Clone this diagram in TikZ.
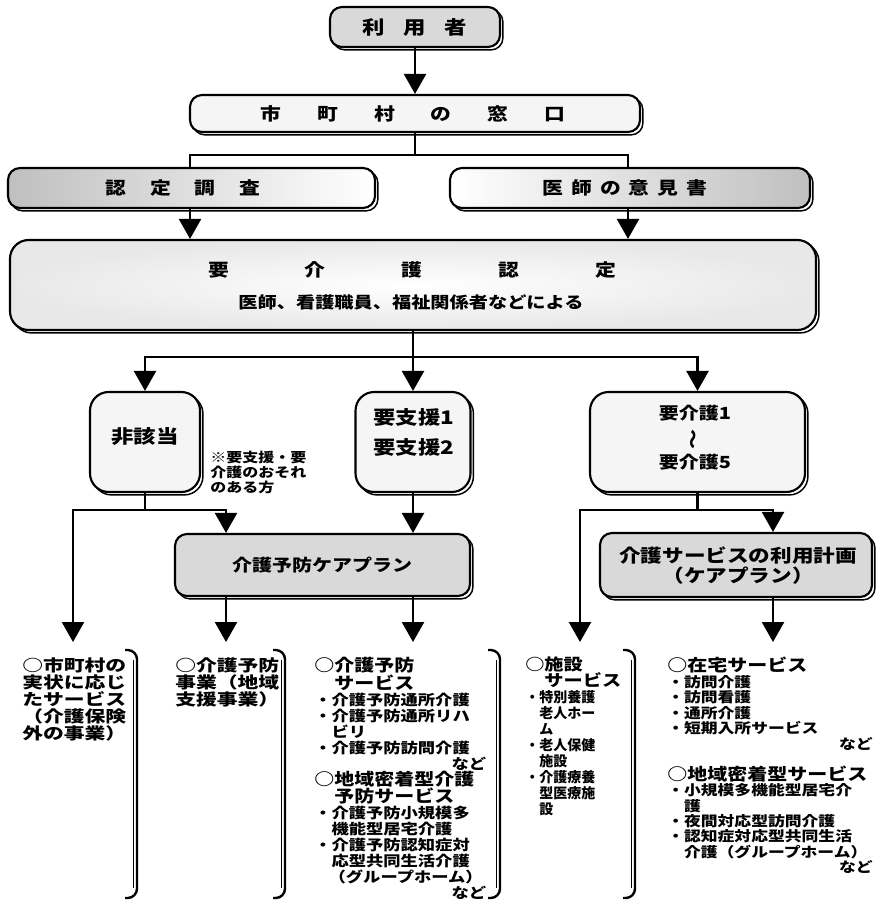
\documentclass[tikz,border=0pt]{standalone}
\usepackage{fontspec}
\usepackage{graphicx}
\usetikzlibrary{arrows.meta,shadows}
\newfontfamily\jp{Noto Sans CJK JP}[FakeStretch=1.2]
\newfontfamily\jpw{Noto Sans CJK JP}[FakeStretch=1.3]
\newfontfamily\jpn{Noto Sans CJK JP}
\newcommand\rnd{\hskip 0pt plus 1fill\relax}
\newcommand\fs[1]{\fontsize{#1}{#1}\selectfont}
\setlength\parindent{0pt}
\lineskiplimit=-50pt
\lineskip=0pt
\begin{document}
\begin{tikzpicture}[x=0.75pt,y=-0.75pt,
  sz/.style 2 args={minimum width=#1*0.75pt, minimum height=#2*0.75pt},
  box/.style={draw=black, line width=1.6pt, rounded corners=9pt, inner sep=0pt,
     copy shadow={shadow xshift=2.2pt, shadow yshift=-2.2pt, draw=black, line width=1.1pt, fill=white}},
  lbox/.style={box, fill=gray!8},
  dbox/.style={box, fill=gray!30},
  txt/.style={inner sep=0pt},
  arr/.style={line width=1.8pt, -{Triangle[width=16.5pt,length=15pt]}},
  ln/.style={line width=1.8pt},
  brk/.style={line width=1.8pt, rounded corners=7pt},
  brkin/.style={line width=0.7pt},
  col/.style={inner sep=0pt, anchor=north west, align=left}
]
\fill[white] (0,0) rectangle (875,902);
\path[use as bounding box] (0,0) rectangle (875,902);

% ---- boxes ----
\node[dbox, sz={170}{40}] (user) at (415,27) {};
\node[txt, font=\jp\bfseries\fs{14}] (userT) at (user) {利\hspace{14pt}用\hspace{14pt}者};

\node[lbox, sz={450}{37}] (mado) at (415,113.5) {};
\node[txt, font=\jp\bfseries\fs{13}] (madoT) at (413,113.5) {市\hspace{27pt}町\hspace{27pt}村\hspace{27pt}の\hspace{27pt}窓\hspace{27pt}口};

\node[box, sz={367}{40}, left color=gray!50, right color=white] (chosa) at (191.5,188) {};
\node[txt, font=\jp\bfseries\fs{13}] (chosaT) at (183,188) {認\hspace{18pt}定\hspace{18pt}調\hspace{18pt}査};

\node[box, sz={360}{40}, left color=white, right color=gray!50] (ishi) at (630,188) {};
\node[txt, font=\jp\bfseries\fs{13}] (ishiT) at (625,188) {医\hspace{6pt}師\hspace{6pt}の\hspace{6pt}意\hspace{6pt}見\hspace{6pt}書};

\node[box, sz={806}{90}, rounded corners=14pt, inner color=white, outer color=gray!18] (nintei) at (413,285) {};
\node[txt, font=\jp\bfseries\fs{13}] (ninteiT) at (412,270) {要\hspace{57pt}介\hspace{57pt}護\hspace{57pt}認\hspace{57pt}定};
\node[txt, font=\jp\bfseries\fs{12}] (ninteiS) at (411,302) {医師、看護職員、福祉関係者などによる};

\node[lbox, sz={110}{100}, rounded corners=14pt] (hi) at (145,442) {};
\node[txt, font=\jp\bfseries\fs{14}] (hiT) at (145,437) {非該当};

\node[lbox, sz={115}{100}, rounded corners=14pt] (shien) at (413,442) {};
\node[txt, align=center, font=\jp\bfseries\fontsize{14}{22}\selectfont] (shienT) at (414,432.5) {要支援1\\要支援2};

\node[lbox, sz={215}{100}, rounded corners=14pt] (kaigo) at (697.5,442) {};
\node[txt, align=center, font=\jp\bfseries\fontsize{12.5}{18.4}\selectfont] (kaigoT) at (695,437.5) {要介護1\\\rotatebox[origin=c]{90}{～}\\要介護5};

\node[txt, anchor=north west, align=left, font=\jp\bfseries\fontsize{10}{11}\selectfont] (note) at (210,451) {※要支援・要\\介護のおそれ\\のある方};

\node[dbox, sz={295}{62}] (cp1) at (322.5,565) {};
\node[txt, font=\jp\bfseries\fs{12.5}] (cp1T) at (322,565) {介護予防ケアプラン};

\node[dbox, sz={272}{64}] (cp2) at (736,565) {};
\node[txt, align=center, font=\jp\bfseries\fontsize{13.5}{15}\selectfont] (cp2T) at (738,566) {介護サービスの利用計画\\（ケアプラン）};

% ---- connectors ----
\coordinate (j1) at (415,155);
\coordinate (jL) at (190,155);
\coordinate (jR) at (628,155);
\draw[arr] (user.south) -- (mado.north);
\draw[ln] (mado.south) -- (j1);
\draw[ln] (jL |- chosa.north) -- (jL) -- (jR) -- (jR |- ishi.north);
\draw[arr] (jL |- chosa.south) -- (jL |- nintei.north);
\draw[arr] (jR |- ishi.south) -- (jR |- nintei.north);

\coordinate (j2) at (413,357);
\draw[ln] (nintei.south) -- (j2);
\draw[arr] (j2) -- (shien.north);
\draw[arr] (j2) -| (hi.north);
\draw[arr] (j2) -| (kaigo.north);

\coordinate (j3) at (145,510);
\coordinate (c1) at (73,642);
\coordinate (c2) at (226,642);
\coordinate (c3) at (413,642);
\coordinate (c4) at (580,642);
\coordinate (c5) at (773,642);
\draw[ln] (hi.south) -- (j3);
\draw[arr] (j3) -| (c1);
\draw[arr] (j3) -| (c2 |- cp1.north);
\draw[arr] (shien.south) -- (shien.south |- cp1.north);
\draw[arr] (c2 |- cp1.south) -- (c2);
\draw[arr] (c3 |- cp1.south) -- (c3);

\coordinate (j4) at (697.5,510);
\draw[ln] (kaigo.south) -- (j4);
\draw[arr] (j4) -| (c4);
\draw[arr] (j4) -| (c5 |- cp2.north);
\draw[arr] (c5 |- cp2.south) -- (c5);

% ---- brackets ----
\foreach \bx in {137,285,500,635} {
  \draw[brk] (\bx-12,650) -- (\bx,650) -- (\bx,898) -- (\bx-12,898);
  \draw[brkin] (\bx-3.5,660) -- (\bx-3.5,888);
}

% ---- column texts ----
\node[col, font=\jpw\bfseries\fontsize{12}{12.75}\selectfont] (t1) at (22,657)
  {○市町村の\\実状に応じ\\たサービス\\（介護保険\\外の事業）};

\node[col, font=\jpw\bfseries\fontsize{12}{12.75}\selectfont] (t2) at (175,657)
  {○介護予防\\事業（地域\\支援事業）};

\node[col, text width=129pt, font=\jp\bfseries\fontsize{10.8}{12}\selectfont] (t3) at (314,657)
  {{\fs{12.5}○介護予防}\\
   {\fs{12.5}　サービス}\\
   ・介護予防通所介護\\
   ・介護予防通所リハ\\
   　ビリ\\
   ・介護予防訪問介護\\
   \rnd など\\
   {\fs{12.5}○地域密着型介護}\\
   {\fs{12.5}　予防サービス}\\
   ・介護予防小規模多\\
   　機能型居宅介護\\
   ・介護予防認知症対\\
   　応型共同生活介護\\
   \hspace*{1em}（グループホーム）\\
   \rnd など};

\node[col, text width=79pt, font=\jpn\bfseries\fontsize{10.5}{12}\selectfont] (t4) at (525,657)
  {{\jp\fs{12}○施設}\\
   {\jp\fs{12}　サービス}\\
   ・特別養護\\
   　老人ホー\\
   　ム\\
   ・老人保健\\
   　施設\\
   ・介護療養\\
   　型医療施\\
   　設};

\node[col, text width=154pt, font=\jp\bfseries\fontsize{10.5}{11.6}\selectfont] (t5) at (667,657)
  {{\fs{12.5}○在宅サービス}\\
   ・訪問介護\\
   ・訪問看護\\
   ・通所介護\\
   ・短期入所サービス\\
   \rnd など\\
   \mbox{}\\
   {\fs{12.5}○地域密着型サービス}\\
   ・小規模多機能型居宅介\\
   　護\\
   ・夜間対応型訪問介護\\
   ・認知症対応型共同生活\\
   　介護（グループホーム）\\
   \rnd など};
\end{tikzpicture}
\end{document}
